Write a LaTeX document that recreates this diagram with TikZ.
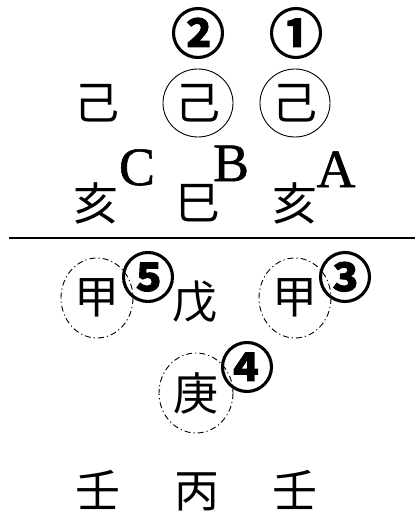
\documentclass[tikz,border=0pt]{standalone}
\usepackage{fontspec}
\newfontfamily\cjk{Noto Sans CJK JP}
\newfontfamily\cjkb[FakeBold=2]{Noto Sans CJK JP Bold}
\newfontfamily\latf[FakeBold=1]{Liberation Serif}
\begin{document}
\begin{tikzpicture}[x=1pt,y=-1pt,
  hz/.style={font=\cjk\fontsize{45}{45}\selectfont, inner sep=0pt},
  num/.style={font=\cjkb\fontsize{54}{54}\selectfont, inner sep=0pt},
  lat/.style={font=\latf\fontsize{54}{54}\selectfont, inner sep=0pt, anchor=base},
  ring/.style={draw, line width=0.9pt},
  dring/.style={draw, line width=0.9pt, dash pattern=on 6pt off 3pt on 1.2pt off 3pt}]
\useasboundingbox (0,0) rectangle (415,516);
% top numbers
\node[num] (n2) at (198,33) {②};
\node[num] (n1) at (296,33) {①};
% row ji
\node[hz] (j1) at (97,103) {己};
\node[hz] (j2) at (198,103) {己};
\node[hz] (j3) at (295,103) {己};
\draw[ring] (j2) ellipse (35 and 34);
\draw[ring] (j3) ellipse (35 and 34);
% row hai
\node[hz] (h1) at (96,203) {亥};
\node[hz] (h2) at (198,203) {巳};
\node[hz] (h3) at (295,203) {亥};
\node[lat] (lc) at (137,185) {C};
\node[lat] (lb) at (231,181) {B};
\node[lat] (la) at (336,187) {A};
% line
\coordinate (l1) at (9,238);
\coordinate (l2) at (415,238);
\draw[line width=1.5pt] (l1) -- (l2);
% row jia
\node[hz] (k1) at (97,298) {甲};
\node[hz] (k2) at (195,302) {戊};
\node[hz] (k3) at (295,298) {甲};
\draw[dring] (k1) ellipse (36 and 40);
\draw[dring] (k3) ellipse (36 and 40);
\node[num] (n5) at (148,277) {⑤};
\node[num] (n3) at (345,277) {③};
% geng
\node[hz] (g) at (196,393) {庚};
\draw[dring] (g) ellipse (37 and 40);
\node[num] (n4) at (247,367) {④};
% bottom
\node[hz] (r1) at (98,490) {壬};
\node[hz] (r2) at (197,492) {丙};
\node[hz] (r3) at (295,490) {壬};
\end{tikzpicture}
\end{document}
